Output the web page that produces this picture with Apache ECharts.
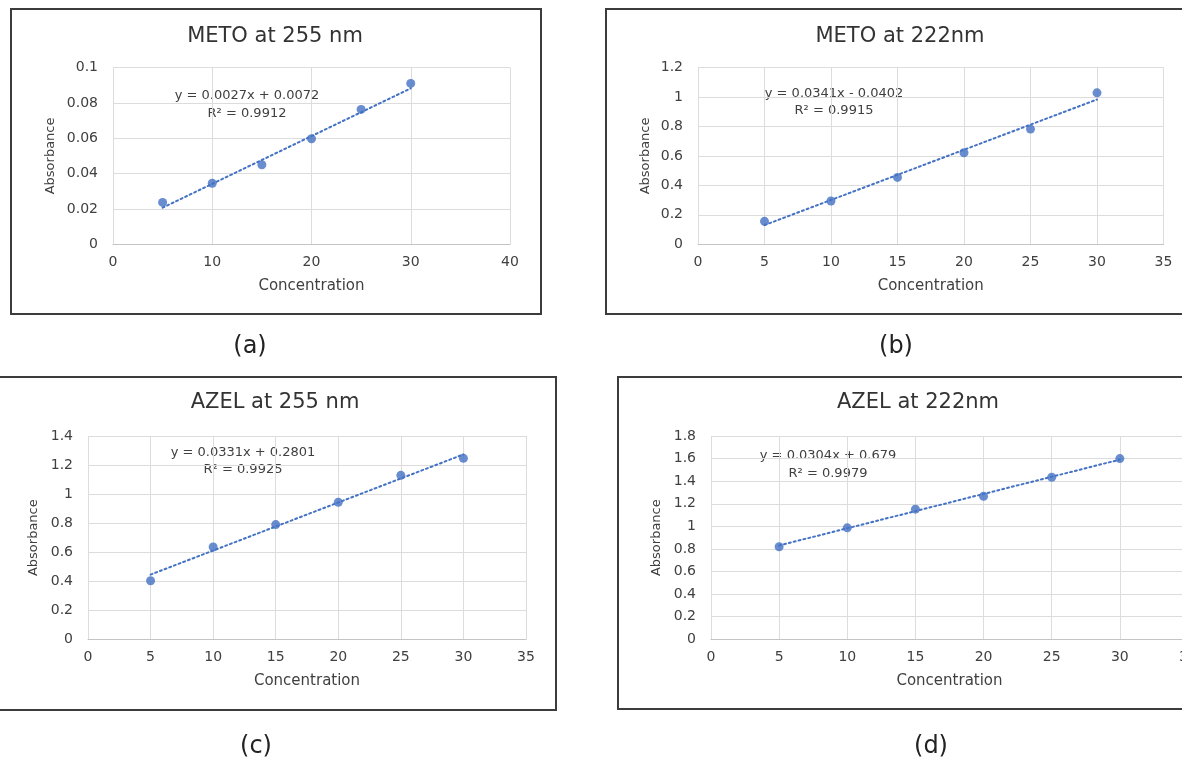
<!DOCTYPE html>
<html lang="en">
<head>
    <meta charset="UTF-8">
    <title>Calibration curves</title>
    <script src="https://cdn.jsdelivr.net/npm/echarts@6/dist/echarts.min.js"></script>
    <style>
        html, body { margin: 0; padding: 0; background: #fff; }
        #main { width: 1182px; height: 763px; }
    </style>
</head>
<body>
    <div id="main"></div>
    <script>
        // concentration values (x)
        var conc = [5, 10, 15, 20, 25, 30];
        // absorbance
        var metoA = [0.0237, 0.0345, 0.045, 0.0597, 0.0763, 0.091];
        var metoB = [0.156, 0.294, 0.454, 0.621, 0.782, 1.028];
        var azelC = [0.403, 0.636, 0.79, 0.944, 1.129, 1.246];
        var azelD = [0.819, 0.987, 1.152, 1.267, 1.435, 1.6];
        // trendline ends at x = 5 and x = 30
        var trendX = [5, 30];
        var trendA = [0.0207, 0.0882];
        var trendB = [0.1303, 0.9828];
        var trendC = [0.4456, 1.2731];
        var trendD = [0.831, 1.591];

        var titles = ['METO at 255 nm', 'METO at 222nm', 'AZEL at 255 nm', 'AZEL at 222nm'];
        var equations = ['y = 0.0027x + 0.0072', 'y = 0.0341x - 0.0402', 'y = 0.0331x + 0.2801', 'y = 0.0304x + 0.679'];
        var r2 = ['R² = 0.9912', 'R² = 0.9915', 'R² = 0.9925', 'R² = 0.9979'];
        var panelTags = ['(a)', '(b)', '(c)', '(d)'];
        var yMax = [0.1, 1.2, 1.4, 1.8];
        var yStep = [0.02, 0.2, 0.2, 0.2];
        var xMax = [40, 35, 35, 35];
        var xStep = [10, 5, 5, 5];

        var points = [metoA, metoB, azelC, azelD];
        var trends = [trendA, trendB, trendC, trendD];

        var FONT = '"DejaVu Sans", sans-serif';
        var BLUE = '#4472C4';

        // layout of each panel (pixels); (d) runs past the right edge like the original
        var grids = [
            { left: 113, top: 67.5, width: 397, height: 176.8 },
            { left: 698, top: 67.5, width: 465.5, height: 176.8 },
            { left: 88, top: 436, width: 438, height: 203.3 },
            { left: 711, top: 436, width: 477, height: 203.3 }
        ];
        grids.forEach(function (g) { g.outerBoundsMode = 'none'; g.containLabel = false; });
        var yNameGap = [56, 46, 48, 48];
        var titlePos = [[275, 37], [900, 37], [275, 403], [918, 403]];
        var eqPos = [[247, 96, 114], [834, 94, 111], [243, 453, 470], [828, 456, 474]];
        var tagPos = [[250, 347], [896, 347], [256, 747], [931, 747]];
        var boxes = [
            { x: 11, y: 9, width: 530, height: 305 },
            { x: 606, y: 9, width: 620, height: 305 },
            { x: -5, y: 377, width: 561, height: 333 },
            { x: 618, y: 377, width: 620, height: 332 }
        ];

        var myChart = echarts.init(document.getElementById('main'));

        var xAxis = [], yAxis = [], series = [], graphic = [];
        for (var i = 0; i < 4; i++) {
            xAxis.push({
                gridIndex: i, type: 'value', min: 0, max: xMax[i], interval: xStep[i],
                name: 'Concentration', nameLocation: 'middle', nameGap: 34,
                nameTextStyle: { fontFamily: FONT, fontSize: 15, color: '#404040' },
                axisLine: { show: true, lineStyle: { color: '#c4c4c4', width: 1 } },
                axisTick: { show: false },
                axisLabel: { fontFamily: FONT, fontSize: 14, color: '#404040', margin: 11, hideOverlap: false },
                splitLine: { show: true, lineStyle: { color: '#dcdcdc', width: 1 } }
            });
            yAxis.push({
                gridIndex: i, type: 'value', min: 0, max: yMax[i], interval: yStep[i],
                name: 'Absorbance', nameLocation: 'middle', nameGap: yNameGap[i],
                nameTextStyle: { fontFamily: FONT, fontSize: 13, color: '#404040' },
                axisLine: { show: false },
                axisTick: { show: false },
                axisLabel: { fontFamily: FONT, fontSize: 14, color: '#404040', margin: 15 },
                splitLine: { show: true, lineStyle: { color: '#dcdcdc', width: 1 } }
            });
            series.push({
                type: 'line', xAxisIndex: i, yAxisIndex: i, symbol: 'none', z: 2,
                data: trendX.map(function (x, k) { return [x, trends[i][k]]; }),
                lineStyle: { color: BLUE, width: 2, type: [2, 3], cap: 'round' }
            });
            series.push({
                type: 'scatter', xAxisIndex: i, yAxisIndex: i, symbolSize: 9, z: 3,
                data: conc.map(function (x, k) { return [x, points[i][k]]; }),
                itemStyle: { color: BLUE }
            });

            graphic.push({
                type: 'rect', shape: boxes[i], silent: true,
                style: { fill: 'none', stroke: '#3c3c3c', lineWidth: 2 }
            });
            graphic.push({
                type: 'text', x: titlePos[i][0], y: titlePos[i][1],
                style: { text: titles[i], font: '21px ' + FONT, fill: '#333', align: 'center', verticalAlign: 'middle' }
            });
            graphic.push({
                type: 'text', x: eqPos[i][0], y: eqPos[i][1],
                style: { text: equations[i], font: '13px ' + FONT, fill: '#404040', align: 'center', verticalAlign: 'middle' }
            });
            graphic.push({
                type: 'text', x: eqPos[i][0], y: eqPos[i][2],
                style: { text: r2[i], font: '13px ' + FONT, fill: '#404040', align: 'center', verticalAlign: 'middle' }
            });
            graphic.push({
                type: 'text', x: tagPos[i][0], y: tagPos[i][1],
                style: { text: panelTags[i], font: '24px ' + FONT, fill: '#222', align: 'center', verticalAlign: 'middle' }
            });
        }

        var option = {
            animation: false,
            backgroundColor: '#fff',
            grid: grids,
            xAxis: xAxis,
            yAxis: yAxis,
            series: series,
            graphic: graphic
        };

        myChart.setOption(option);
    </script>
</body>
</html>
